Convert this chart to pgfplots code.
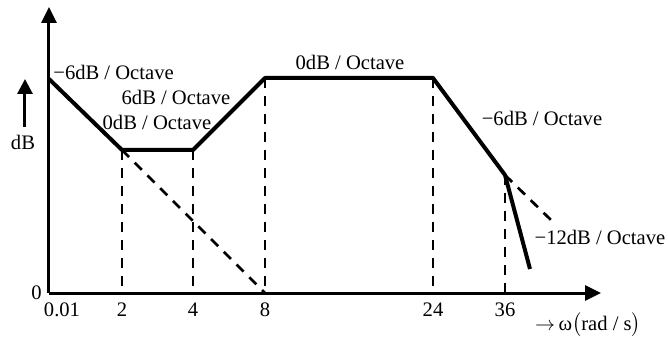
\documentclass[border=0pt]{standalone}
\usepackage{fontspec}
\setmainfont{Liberation Serif}
\usepackage{pgfplots}
\pgfplotsset{compat=1.18}
\usetikzlibrary{arrows.meta}

\begin{document}
\fontsize{10.3}{12}\selectfont
\begin{tikzpicture}
\begin{axis}[
 x=0.5pt, y=0.5pt,
 xmin=49, xmax=601, ymin=0, ymax=286,
 axis lines=left,
 axis line style={line width=1.5pt, -{Triangle[length=8pt,width=7.5pt]}},
 xtick={122,193,265,433,505},
 xticklabels={2,4,8,24,36},
 extra x ticks={49},
 extra x tick labels={0.01},
 extra x tick style={xticklabel style={xshift=6.5pt}},
 ytick={0}, yticklabels={0},
 major tick length=0pt,
 xticklabel style={yshift=-1.5pt},
 tick label style={font=\fontsize{10.3}{12}\selectfont},
 /pgf/number format/assume math mode=true,
 clip=false,
]
% asymptotic magnitude curve
\addplot[black, line width=2pt, line join=round] coordinates {
 (49,214) (122,143) (193,143) (265,215) (433,215) (505,118) (530,24)};
% extended asymptotes
\addplot[black, line width=1.35pt, dash pattern=on 5pt off 4pt] coordinates {(122,143) (265,0)};
\addplot[black, line width=1.35pt, dash pattern=on 5pt off 4pt] coordinates {(505,118) (553,71)};
% corner frequency markers
\addplot[black, line width=1.35pt, dash pattern=on 5pt off 4pt] coordinates {(122,143) (122,0)};
\addplot[black, line width=1.35pt, dash pattern=on 5pt off 4pt] coordinates {(193,143) (193,0)};
\addplot[black, line width=1.35pt, dash pattern=on 5pt off 4pt] coordinates {(265,215) (265,0)};
\addplot[black, line width=1.35pt, dash pattern=on 5pt off 4pt] coordinates {(433,215) (433,0)};
\addplot[black, line width=1.35pt, dash pattern=on 5pt off 4pt] coordinates {(505,118) (505,0)};

\node[anchor=west, inner sep=0pt] at (axis cs:53,221) {−6dB / Octave};
\node[inner sep=0pt] at (axis cs:176,196) {6dB / Octave};
\node[inner sep=0pt] at (axis cs:157,171) {0dB / Octave};
\node[inner sep=0pt] at (axis cs:350,231) {0dB / Octave};
\node[inner sep=0pt] at (axis cs:542,175) {−6dB / Octave};
\node[inner sep=0pt] at (axis cs:600,56) {−12dB / Octave};
\node[inner sep=0pt] at (axis cs:23,151) {dB};
\draw[line width=1.5pt, -{Triangle[length=7.5pt,width=7.5pt]}] (axis cs:25,166) -- (axis cs:25,214);
\node[inner sep=0pt] at (axis cs:588,-32) {$\rightarrow$\,ω$\big($rad / s$\big)$};

% page frame
\path (axis cs:0,-44) rectangle (axis cs:668,293);
\end{axis}
\end{tikzpicture}
\end{document}
